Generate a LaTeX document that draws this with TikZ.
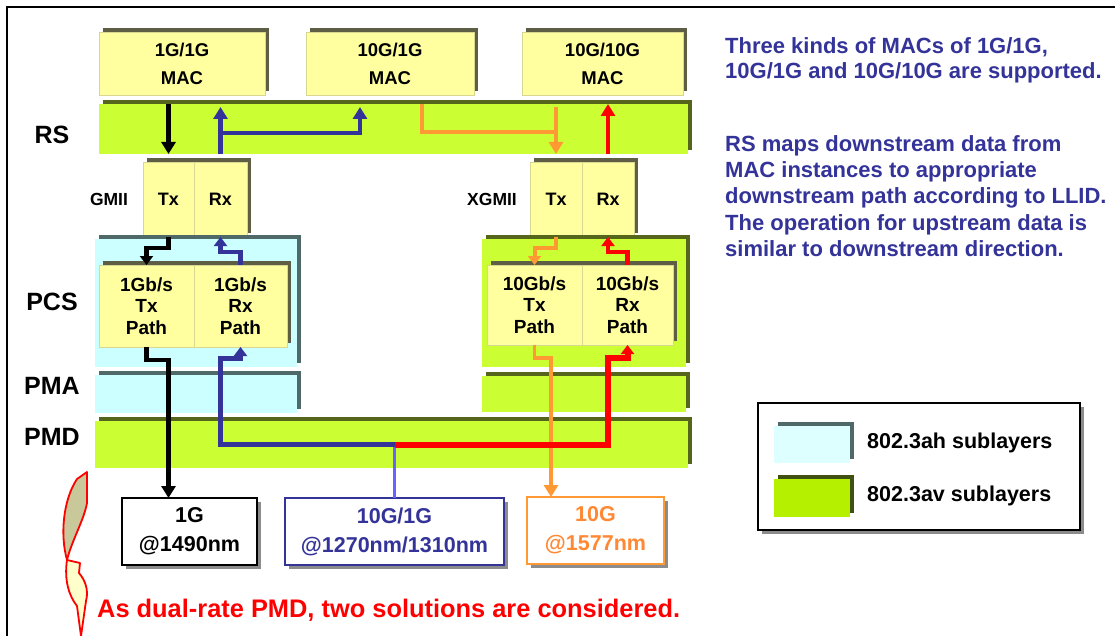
\documentclass[tikz,border=0pt]{standalone}
\usepackage{fontspec}
\setmainfont{Liberation Sans}
\usetikzlibrary{arrows.meta,shadows,calc}

\definecolor{yel}{HTML}{FFFFA0}
\definecolor{yeledge}{HTML}{D8D890}
\definecolor{yelbev}{HTML}{5E5E45}
\definecolor{grn}{HTML}{CCFF33}
\definecolor{grnbev}{HTML}{56651C}
\definecolor{lblue}{HTML}{CCFFFF}
\definecolor{lbbev}{HTML}{4F6868}
\definecolor{dblue}{HTML}{333399}
\definecolor{lineblue}{HTML}{6666FF}
\definecolor{orng}{HTML}{FF9933}
\definecolor{orngtxt}{HTML}{FF8833}
\definecolor{rd}{HTML}{FF0000}
\definecolor{swgrn}{HTML}{B4F000}
\definecolor{swgrnbev}{HTML}{3F5010}
\definecolor{swblue}{HTML}{DDFFFF}
\definecolor{shgray}{HTML}{8C8C8C}
\definecolor{olive}{HTML}{C8C89A}
\definecolor{pale}{HTML}{FFFFCC}

% place a box by its corners: name, x1, y1, x2, y2, style, text
\newcommand\layerbox[7]{%
  \node[#6, minimum width={#4-#2}, minimum height={#5-#3}] (#1)
    at ({(#2+#4)/2},{(#3+#5)/2}) {#7};}

\tikzset{
  face/.style={inner sep=0pt, outer sep=0pt, align=center},
  bevel/.style={general shadow={fill=#1, shadow xshift=4pt, shadow yshift=4pt}},
  ybox/.style={face, fill=yel, draw=yeledge, line width=0.6pt, bevel=yelbev},
  gbar/.style={face, fill=grn, bevel=grnbev},
  bbar/.style={face, fill=lblue, bevel=lbbev},
  outbox/.style={face, fill=white, line width=1.5pt,
    drop shadow={shadow xshift=4pt, shadow yshift=-4pt, fill=shgray, opacity=1}},
  mactext/.style={font=\bfseries\fontsize{18.5}{28}\selectfont},
  txtext/.style={font=\bfseries\fontsize{18}{22}\selectfont},
  pathtext/.style={font=\bfseries\fontsize{19}{21.5}\selectfont},
  outtext/.style={font=\bfseries\fontsize{21.5}{29}\selectfont},
  layerlabel/.style={font=\bfseries\fontsize{25}{30}\selectfont, inner sep=0pt},
  iflabel/.style={font=\bfseries\fontsize{17.5}{20}\selectfont, inner sep=0pt},
  note/.style={font=\bfseries\fontsize{22}{26}\selectfont, text=dblue, inner sep=0pt, anchor=base west},
  legtext/.style={font=\bfseries\fontsize{21.5}{26}\selectfont, inner sep=0pt, anchor=base west},
  >={Triangle[width=14pt,length=12pt]},
  blk/.style={draw=black, line width=4.2pt},
  blu/.style={draw=dblue, line width=4.5pt},
  org/.style={draw=orng, line width=4pt},
  rdl/.style={draw=rd, line width=4.5pt},
  small/.style={>={Triangle[width=13pt,length=9pt]}},
}

\begin{document}
\begin{tikzpicture}[x=1pt, y=-1pt]
\useasboundingbox (0,0) rectangle (1115,636);

% outer frame
\draw[line width=2pt] (7,636) -- (7,7) -- (1115,7);

% MAC instances
\layerbox{mac1}{99}{32}{265}{95}{ybox, mactext}{1G/1G\\MAC}
\layerbox{mac2}{306}{32}{474}{95}{ybox, mactext}{10G/1G\\MAC}
\layerbox{mac3}{522}{32}{683}{95}{ybox, mactext}{10G/10G\\MAC}

% reconciliation sublayer
\layerbox{rs}{99}{104}{688}{154}{gbar}{}

% media independent interfaces
\layerbox{gtx}{143}{162}{194}{237}{ybox, txtext}{Tx}
\layerbox{grx}{194}{162}{247}{237}{ybox, txtext}{Rx}
\layerbox{xtx}{530}{162}{582}{237}{ybox, txtext}{Tx}
\layerbox{xrx}{582}{162}{634}{237}{ybox, txtext}{Rx}

% 1G stack (802.3ah)
\layerbox{pcs1}{95}{239}{297}{367}{bbar}{}
\layerbox{ptx1}{99}{265}{194}{347}{ybox, pathtext}{1Gb/s\\Tx\\Path}
\layerbox{prx1}{194}{265}{287}{347}{ybox, pathtext}{1Gb/s\\Rx\\Path}
\layerbox{pma1}{95}{375}{297}{413}{bbar}{}

% 10G stack (802.3av)
\layerbox{pcs2}{482}{239}{686}{367}{gbar}{}
\layerbox{ptx2}{487}{265}{582}{345}{ybox, pathtext}{10Gb/s\\Tx\\Path}
\layerbox{prx2}{582}{265}{673}{345}{ybox, pathtext}{10Gb/s\\Rx\\Path}
\layerbox{pma2}{482}{376}{686}{412}{gbar}{}

% shared PMD
\layerbox{pmd}{95}{421}{688}{468}{gbar}{}

% layer names
\node[layerlabel] (lrs) at (52,135) {RS};
\node[layerlabel] (lpcs) at (52,302) {PCS};
\node[layerlabel] (lpma) at (52,386) {PMA};
\node[layerlabel] (lpmd) at (52,437) {PMD};
\node[iflabel] (lgmii) at (109,199) {GMII};
\node[iflabel] (lxgmii) at (492,199) {XGMII};

% optical interfaces
\layerbox{out1}{122}{498}{257}{565}{outbox, draw=black, outtext}{1G\\@1490nm}
\layerbox{out2}{285}{498}{504}{565}{outbox, draw=dblue, text=dblue, outtext}{10G/1G\\@1270nm/1310nm}
\layerbox{out3}{527}{497}{664}{564}{outbox, draw=orng, text=orngtxt, outtext}{10G\\@1577nm}

% junction of the upstream paths in the PMD
\coordinate (J) at (out2.north |- pmd.center);

% RS mapping
\draw[blk, ->] (gtx.north |- rs.north) -- (gtx.north |- rs.south);
\draw[blu, ->] (grx.north |- rs.south) -- ([yshift=-3pt]grx.north |- rs.north);
\draw[blu, ->] ($(grx.center |- rs.center)+(0,4)$) -| ([xshift=-30pt,yshift=-3pt]mac2.south |- rs.north);
\draw[org] ([xshift=32pt]mac2.south |- rs.north) |- ($(xtx.center |- rs.center)+(0,3)$);
\draw[org, ->] ([yshift=-3pt]xtx.north |- rs.north) -- (xtx.north |- rs.south);
\draw[rdl, ->] (xrx.north |- rs.south) -- (xrx.north |- rs.north);

% PCS entry and exit
\draw[blk, small, ->] (gtx.south) -- ++(0,11) -| (ptx1.north);
\draw[blu, small, ->] (prx1.north) -- ++(0,-13) -| (grx.south);
\draw[org, small, ->] (xtx.south) -- ++(0,11) -| (ptx2.north);
\draw[rdl, small, ->] (prx2.north) -- ++(0,-13) -| (xrx.south);

% down to the optics
\draw[blk, ->] (ptx1.south) -- ++(0,13) -| (gtx.center |- out1.north);
\draw[org, line width=3.2pt, ->] (ptx2.south) -- ++(0,13) -| ([xshift=-5pt]xtx.center |- out3.north);

% upstream from the optics
\draw[lineblue, line width=3.5pt] (J) -- (out2.north);
\draw[blu, line width=5pt, small, ->] (J) -| ($(grx.center |- prx1.south)+(0,11)$) -| (prx1.south);
\draw[rdl, line width=6pt, small, ->] (J) -| ($(xrx.center |- prx2.south)+(0,13)$) -| (prx2.south);

% notes
\node[note] (n1) at (725,54) {Three kinds of MACs of 1G/1G,};
\node[note] (n2) at (725,79) {10G/1G and 10G/10G are supported.};
\node[note] (n3) at (725,152) {RS maps downstream data from};
\node[note] (n4) at (725,178) {MAC instances to appropriate};
\node[note] (n5) at (725,204) {downstream path according to LLID.};
\node[note] (n6) at (725,230) {The operation for upstream data is};
\node[note] (n7) at (725,256) {similar to downstream direction.};

% legend
\layerbox{legend}{758}{403}{1080}{530}{outbox, draw=black}{}
\layerbox{sw1}{774}{426}{850}{463}{face, fill=swblue, bevel=lbbev}{}
\layerbox{sw2}{774}{479}{850}{517}{face, fill=swgrn, bevel=swgrnbev}{}
\node[legtext] (lt1) at (867,448) {802.3ah sublayers};
\node[legtext] (lt2) at (867,501) {802.3av sublayers};

% curved pointer and remark
\filldraw[draw=rd, line width=1.8pt, fill=olive, line join=round]
  (77,479) -- (87,472) -- (87,503)
  .. controls (84,520) and (72,540) .. (67,560)
  .. controls (60,535) and (63,500) .. (77,479) -- cycle;
\filldraw[draw=rd, line width=1.8pt, fill=pale, line join=round]
  (67,560) -- (80,563) -- (79,573)
  .. controls (85,580) and (89,590) .. (86,601)
  -- (81,636) -- (77,606)
  .. controls (69,596) and (64,580) .. (67,560) -- cycle;
\node[font=\bfseries\fontsize{25.4}{30}\selectfont, text=rd, inner sep=0pt, anchor=base west]
  (remark) at (97,617) {As dual-rate PMD, two solutions are considered.};
\end{tikzpicture}
\end{document}
